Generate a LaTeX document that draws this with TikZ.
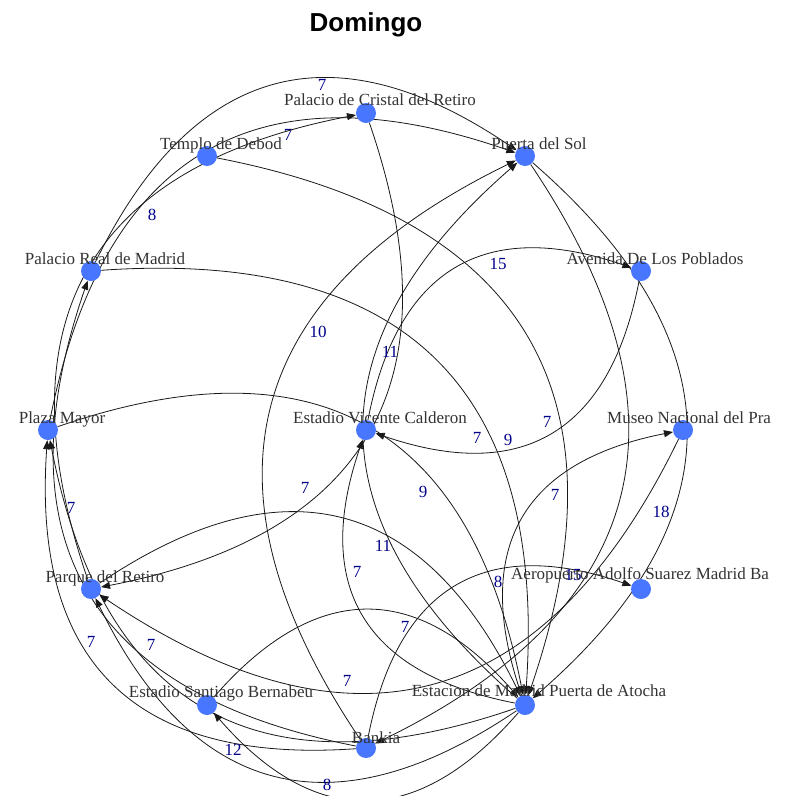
\documentclass[tikz,border=0pt]{standalone}
\usepackage{fontspec}
\setmainfont{Liberation Serif}
\newfontfamily\titlefont{Liberation Sans}
\usetikzlibrary{arrows.meta,backgrounds}
\definecolor{vblue}{RGB}{72,118,255}
\definecolor{wblue}{RGB}{0,0,139}
\begin{document}
\begin{tikzpicture}[x=1pt,y=-1pt,
        vert/.style={circle,fill=vblue,minimum size=20pt,inner sep=0pt},
        vlab/.style={anchor=mid,text=black!80,inner sep=0pt,font=\fontsize{17}{17}\selectfont},
        elab/.style={text=wblue,inner sep=0pt,font=\fontsize{17}{17}\selectfont},
        link/.style={draw=black!90,line width=0.8pt,-{Triangle[length=9pt,width=7pt]},bend left=49,looseness=1.3}]
                \useasboundingbox (0,0) rectangle (789,796) ;
                \draw (366,31) node[anchor=base,font=\titlefont\bfseries\fontsize{26}{26}\selectfont] (titulo) {Domingo} ;
                \node[vert] (mus) at (683,430) {} ;
                \node[vert] (ave) at (641,271) {} ;
                \node[vert] (sol) at (525,156) {} ;
                \node[vert] (cri) at (366,113) {} ;
                \node[vert] (tem) at (207,156) {} ;
                \node[vert] (pal) at (91,271) {} ;
                \node[vert] (pma) at (48,430) {} ;
                \node[vert] (par) at (91,589) {} ;
                \node[vert] (ber) at (207,705) {} ;
                \node[vert] (ban) at (366,748) {} ;
                \node[vert] (ato) at (525,705) {} ;
                \node[vert] (aer) at (641,589) {} ;
                \node[vert] (vic) at (366,430) {} ;
                \draw (607,421) node[vlab,anchor=mid west] (lmus) {Museo Nacional del Pra} ;
                \draw (655,262) node[vlab] (lave) {Avenida De Los Poblados} ;
                \draw (539,147) node[vlab] (lsol) {Puerta del Sol} ;
                \draw (380,103) node[vlab] (lcri) {Palacio de Cristal del Retiro} ;
                \draw (221,147) node[vlab] (ltem) {Templo de Debod} ;
                \draw (105,262) node[vlab] (lpal) {Palacio Real de Madrid} ;
                \draw (62,421) node[vlab] (lpma) {Plaza Mayor} ;
                \draw (105,580) node[vlab] (lpar) {Parque del Retiro} ;
                \draw (221,695) node[vlab] (lber) {Estadio Santiago Bernabeu} ;
                \draw (376,741) node[vlab] (lban) {Bankia} ;
                \draw (539,694) node[vlab] (lato) {Estacion de Madrid Puerta de Atocha} ;
                \draw (511,577) node[vlab,anchor=mid west] (laer) {Aeropuerto Adolfo Suarez Madrid Ba} ;
                \draw (380,421) node[vlab] (lvic) {Estadio Vicente Calderon} ;
                \begin{scope}[on background layer]
                \draw[link] (pal) to (sol) node[elab] (w1) at (322,85) {7} ;
                \draw[link] (pma) to (sol) node[elab] (w2) at (288,135) {7} ;
                \draw[link] (par) to (cri) node[elab] (w3) at (152,215) {8} ;
                \draw[link] (vic) to (ave) node[elab] (w4) at (498,264) {15} ;
                \draw[link] (ban) to (sol) node[elab] (w5) at (318,332) {10} ;
                \draw[link] (ato) to (sol) node[elab] (w6) at (390,352) {11} ;
                \draw[link] (pal) to (ato) node[elab] (w7) at (477,438) {7} ;
                \draw[link] (ave) to (vic) node[elab] (w8) at (508,440) {9} ;
                \draw[link] (tem) to (ato) node[elab] (w9) at (547,422) {7} ;
                \draw[link] (cri) to (par) node[elab] (w10) at (305,488) {7} ;
                \draw[link] (pma) to (ato) node[elab] (w11) at (423,492) {9} ;
                \draw[link] (ato) to (mus) node[elab] (w12) at (555,495) {7} ;
                \draw[link] (sol) to (ato) node[elab] (w13) at (661,512) {18} ;
                \draw[link] (par) to (ato) node[elab] (w14) at (383,546) {11} ;
                \draw[link] (ato) to (vic) node[elab] (w15) at (357,572) {7} ;
                \draw[link] (ban) to (aer) node[elab] (w16) at (498,582) {8} ;
                \draw[link] (sol) to (ban) node[elab] (w17) at (573,575) {15} ;
                \draw[link] (ban) to (pal) node[elab] (w18) at (71,508) {7} ;
                \draw[link] (ban) to (pma) node[elab] (w19) at (91,642) {7} ;
                \draw[link] (ato) to (pma) node[elab] (w20) at (151,645) {7} ;
                \draw[link] (ber) to (ato) node[elab] (w21) at (405,627) {7} ;
                \draw[link] (mus) to (par) node[elab] (w22) at (347,681) {7} ;
                \draw[link] (ato) to (par) node[elab] (w23) at (233,750) {12} ;
                \draw[link] (ato) to (ber) node[elab] (w24) at (327,785) {8} ;
                \end{scope}
            \end{tikzpicture}
\end{document}
